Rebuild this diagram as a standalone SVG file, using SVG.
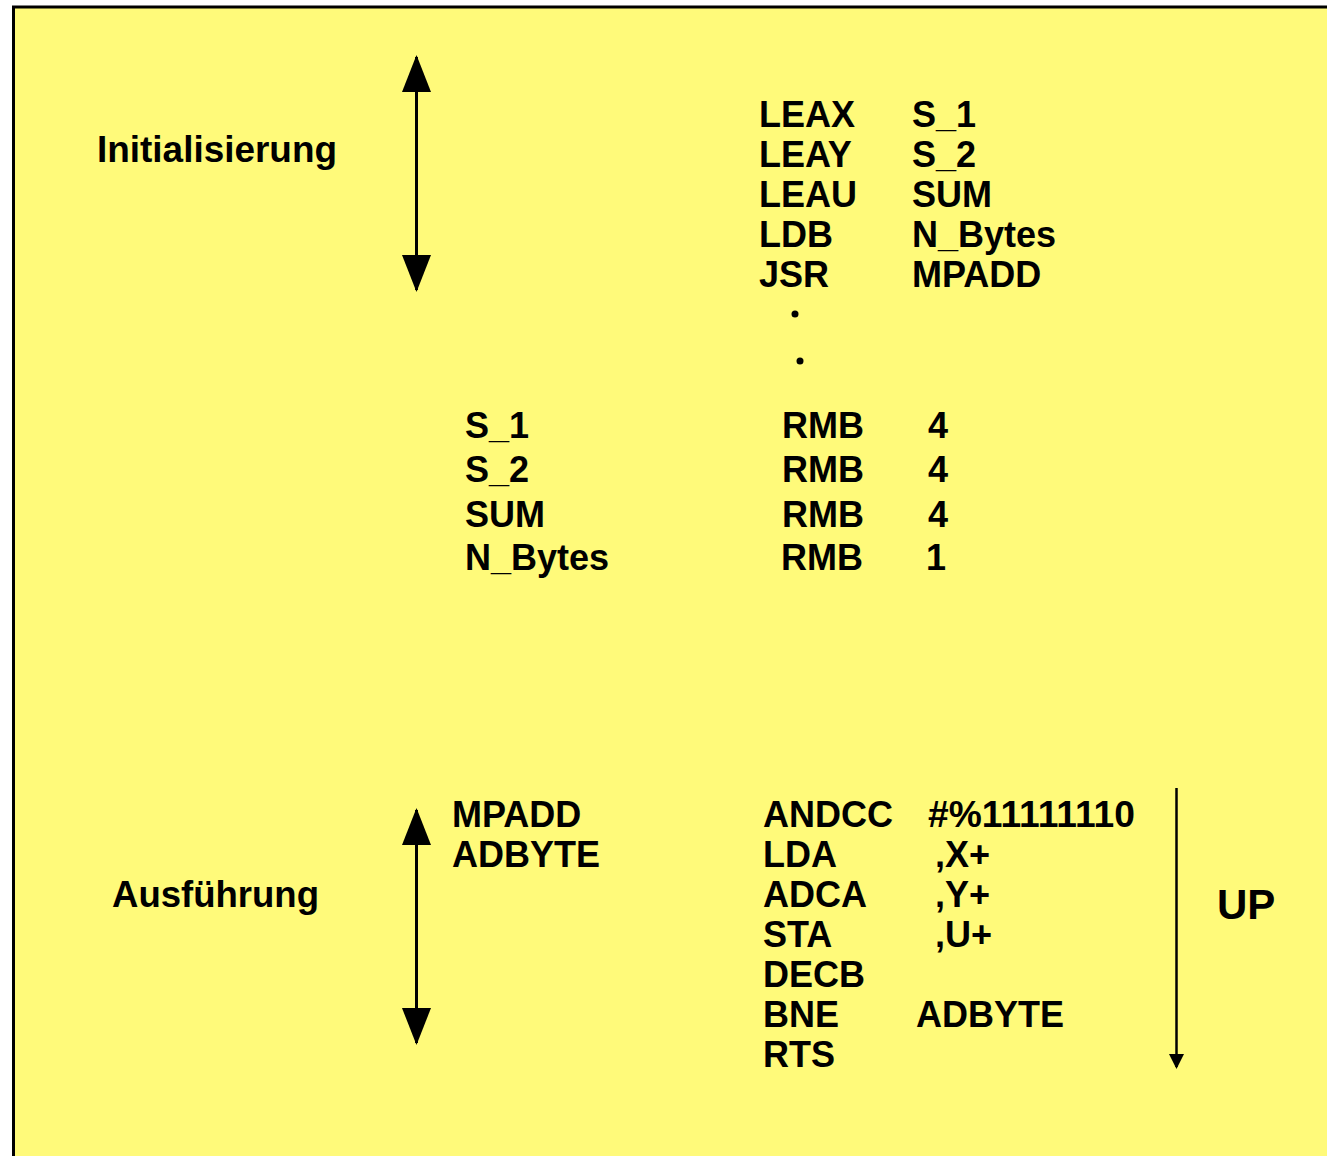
<svg xmlns="http://www.w3.org/2000/svg" width="1327" height="1156" viewBox="0 0 1327 1156">
<style>
.t{font-family:"Liberation Sans",Arial,Helvetica,sans-serif;font-weight:bold;font-size:36px;fill:#000}
.up{font-size:42px}
.ln{stroke:#000;stroke-width:3;fill:none}
.dbl{marker-start:url(#big);marker-end:url(#big)}
</style>
<defs>
<marker id="big" viewBox="0 0 37 29" refX="35" refY="14.5" markerWidth="37" markerHeight="29" markerUnits="userSpaceOnUse" orient="auto-start-reverse">
<path d="M0,0 L37,14.5 L0,29 Z" fill="#000"/>
</marker>
<marker id="small" viewBox="0 0 15 15" refX="13" refY="7.5" markerWidth="15" markerHeight="15" markerUnits="userSpaceOnUse" orient="auto">
<path d="M0,0 L15,7.5 L0,15 Z" fill="#000"/>
</marker>
</defs>
<rect x="13.5" y="7" width="1400" height="1200" fill="#fffa7a" stroke="#000" stroke-width="3"/>
<g id="connectors">
<line class="ln dbl" x1="416.5" y1="57" x2="416.5" y2="290"/>
<line class="ln dbl" x1="416.5" y1="810" x2="416.5" y2="1043"/>
<line class="ln" x1="1176.5" y1="788" x2="1176.5" y2="1067" style="stroke-width:2.5" marker-end="url(#small)"/>
</g>
<g id="label-init"><text class="t" x="97" y="162" textLength="240" lengthAdjust="spacingAndGlyphs">Initialisierung</text></g>
<g id="label-ausf"><text class="t" x="112" y="907" textLength="207" lengthAdjust="spacingAndGlyphs">Ausführung</text></g>
<g id="call-block">
<text class="t" x="759" y="127">LEAX</text><text class="t" x="912" y="127">S_1</text>
<text class="t" x="759" y="167">LEAY</text><text class="t" x="912" y="167">S_2</text>
<text class="t" x="759" y="207">LEAU</text><text class="t" x="912" y="207">SUM</text>
<text class="t" x="759" y="247">LDB</text><text class="t" x="912" y="247">N_Bytes</text>
<text class="t" x="759" y="287">JSR</text><text class="t" x="912" y="287">MPADD</text>
<circle cx="795" cy="314" r="3.5" fill="#000"/>
<circle cx="800" cy="361" r="3.5" fill="#000"/>
</g>
<g id="data-block">
<text class="t" x="465" y="438">S_1</text><text class="t" x="782" y="438">RMB</text><text class="t" x="928" y="438">4</text>
<text class="t" x="465" y="482">S_2</text><text class="t" x="782" y="482">RMB</text><text class="t" x="928" y="482">4</text>
<text class="t" x="465" y="527">SUM</text><text class="t" x="782" y="527">RMB</text><text class="t" x="928" y="527">4</text>
<text class="t" x="465" y="570">N_Bytes</text><text class="t" x="781" y="570">RMB</text><text class="t" x="926" y="570">1</text>
</g>
<g id="sub-block">
<text class="t" x="452" y="827">MPADD</text>
<text class="t" x="452" y="867">ADBYTE</text>
<text class="t" x="763" y="827">ANDCC</text><text class="t" x="928" y="827" textLength="207" lengthAdjust="spacingAndGlyphs">#%11111110</text>
<text class="t" x="763" y="867">LDA</text><text class="t" x="935" y="867">,X+</text>
<text class="t" x="763" y="907">ADCA</text><text class="t" x="935" y="907">,Y+</text>
<text class="t" x="763" y="947">STA</text><text class="t" x="935" y="947">,U+</text>
<text class="t" x="763" y="987">DECB</text>
<text class="t" x="763" y="1027">BNE</text><text class="t" x="916" y="1027">ADBYTE</text>
<text class="t" x="763" y="1067">RTS</text>
</g>
<g id="label-up"><text class="t up" x="1217" y="919">UP</text></g>
</svg>
